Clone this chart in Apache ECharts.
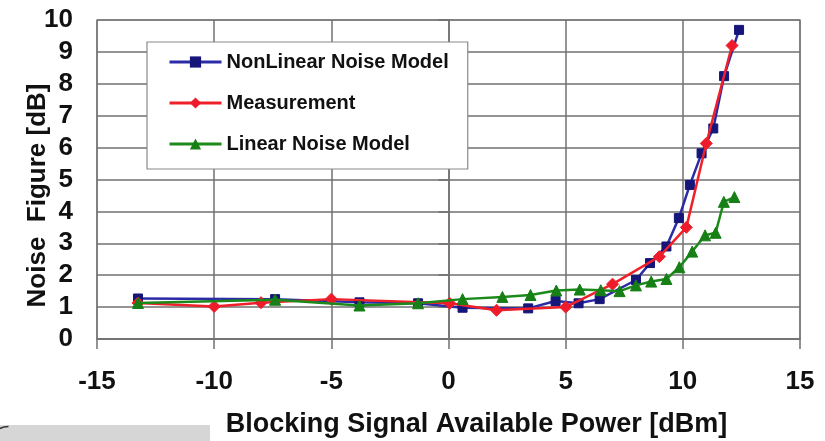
<!DOCTYPE html>
<html>
<head>
<meta charset="utf-8">
<script src="https://cdn.jsdelivr.net/npm/echarts@6/dist/echarts.min.js"></script>
<style>
  html, body { margin: 0; padding: 0; background: #fff; }
  #chart { width: 825px; height: 441px; }
</style>
</head>
<body>
<div id="chart"></div>
<script>
// Noise figure versus blocking signal available power
const nonLinearX = [-13.25, -7.4, -3.8, -1.3, 0.6, 3.4, 4.57, 5.55, 6.45, 8.0, 8.6, 9.3, 9.83, 10.3, 10.8, 11.3, 11.76, 12.4];
const nonLinearY = [1.27, 1.25, 1.15, 1.12, 0.98, 0.96, 1.19, 1.12, 1.25, 1.85, 2.38, 2.9, 3.79, 4.83, 5.82, 6.6, 8.24, 9.69];

const measX = [-13.25, -10, -8.0, -5.0, 0.05, 2.05, 5.0, 7.0, 9.0, 10.15, 11.0, 12.1];
const measY = [1.13, 1.02, 1.14, 1.25, 1.12, 0.9, 1.0, 1.72, 2.58, 3.5, 6.13, 9.2];

const linearX = [-13.25, -7.4, -3.8, -1.3, 0.6, 2.3, 3.5, 4.6, 5.6, 6.5, 7.3, 8.0, 8.65, 9.3, 9.85, 10.4, 10.95, 11.4, 11.75, 12.2];
const linearY = [1.13, 1.23, 1.05, 1.12, 1.25, 1.32, 1.38, 1.52, 1.55, 1.53, 1.5, 1.68, 1.8, 1.88, 2.25, 2.74, 3.25, 3.33, 4.3, 4.45];

const seriesNames = ['NonLinear Noise Model', 'Measurement', 'Linear Noise Model'];
const xTitle = 'Blocking Signal Available Power [dBm]';
const yTitle = 'Noise  Figure [dB]';

const pairs = (xs, ys) => xs.map((x, i) => [x, ys[i]]);
const FONT = '"Liberation Sans", Arial, sans-serif';

const chart = echarts.init(document.getElementById('chart'), null, { renderer: 'canvas' });

chart.setOption({
  backgroundColor: '#ffffff',
  animation: false,
  grid: {
    left: 97, right: 25, top: 20, bottom: 102,
    outerBoundsMode: 'none', containLabel: false,
    show: true, borderColor: '#a0a0a0', borderWidth: 1.5, backgroundColor: 'transparent'
  },
  legend: {
    orient: 'vertical',
    left: 147, top: 42,
    padding: [10, 19, 15, 21],
    itemWidth: 52, itemHeight: 14,
    itemGap: 21,
    backgroundColor: '#ffffff',
    borderColor: '#8a8a8a', borderWidth: 1.2,
    lineStyle: { width: 3 },
    textStyle: { fontFamily: FONT, fontWeight: 'bold', fontSize: 20, lineHeight: 20, color: '#111' },
    data: seriesNames
  },
  xAxis: {
    type: 'value', min: -15, max: 15, interval: 5,
    name: xTitle, nameLocation: 'middle', nameGap: 72, nameMoveOverlap: false,
    nameTextStyle: { fontFamily: FONT, fontWeight: 'bold', fontSize: 27, color: '#111', padding: [0, 0, 0, 56] },
    axisLine: { show: true, lineStyle: { color: '#707070', width: 1.5 } },
    axisTick: { show: true, length: 10, inside: false, lineStyle: { color: '#707070', width: 1.5 } },
    axisLabel: { fontFamily: FONT, fontWeight: 'bold', fontSize: 26, color: '#111', margin: 30 },
    splitLine: { show: true, lineStyle: { color: '#707070', width: 1.5 } }
  },
  yAxis: {
    type: 'value', min: 0, max: 10, interval: 1,
    name: yTitle, nameLocation: 'middle', nameGap: 46, nameRotate: 90, nameMoveOverlap: false,
    nameTextStyle: { fontFamily: FONT, fontWeight: 'bold', fontSize: 26, color: '#111', padding: [0, 32, 0, 0] },
    axisLine: { show: true, lineStyle: { color: '#707070', width: 1.5 } },
    axisTick: { show: true, length: 10, inside: false, lineStyle: { color: '#707070', width: 1.5 } },
    axisLabel: { fontFamily: FONT, fontWeight: 'bold', fontSize: 26, color: '#111', margin: 24 },
    splitLine: { show: true, lineStyle: { color: '#707070', width: 1.5 } }
  },
  series: [
    {
      name: seriesNames[0], type: 'line', data: pairs(nonLinearX, nonLinearY),
      symbol: 'rect', symbolSize: 9,
      lineStyle: { color: '#2b2ba6', width: 2.5 },
      itemStyle: { color: '#15157a', borderColor: '#15157a' },
      z: 3
    },
    {
      name: seriesNames[1], type: 'line', data: pairs(measX, measY),
      symbol: 'diamond', symbolSize: 12,
      lineStyle: { color: '#f0202a', width: 2.5 },
      itemStyle: { color: '#ee1c2a', borderColor: '#ee1c2a' },
      z: 4
    },
    {
      name: seriesNames[2], type: 'line', data: pairs(linearX, linearY),
      symbol: 'triangle', symbolSize: 11,
      lineStyle: { color: '#1b8a1b', width: 2.5 },
      itemStyle: { color: '#167f16', borderColor: '#167f16' },
      z: 5
    }
  ],
  graphic: [
    {
      type: 'rect', left: 0, top: 425,
      shape: { width: 210, height: 16 },
      style: { fill: '#d6d6d6' }, silent: true
    },
    {
      type: 'arc', left: -14, top: 424,
      shape: { cx: 20, cy: 24, r: 20, startAngle: Math.PI, endAngle: Math.PI * 1.5 },
      style: { stroke: '#333', lineWidth: 1.5, fill: 'none' }, silent: true
    }
  ]
});
</script>
</body>
</html>
